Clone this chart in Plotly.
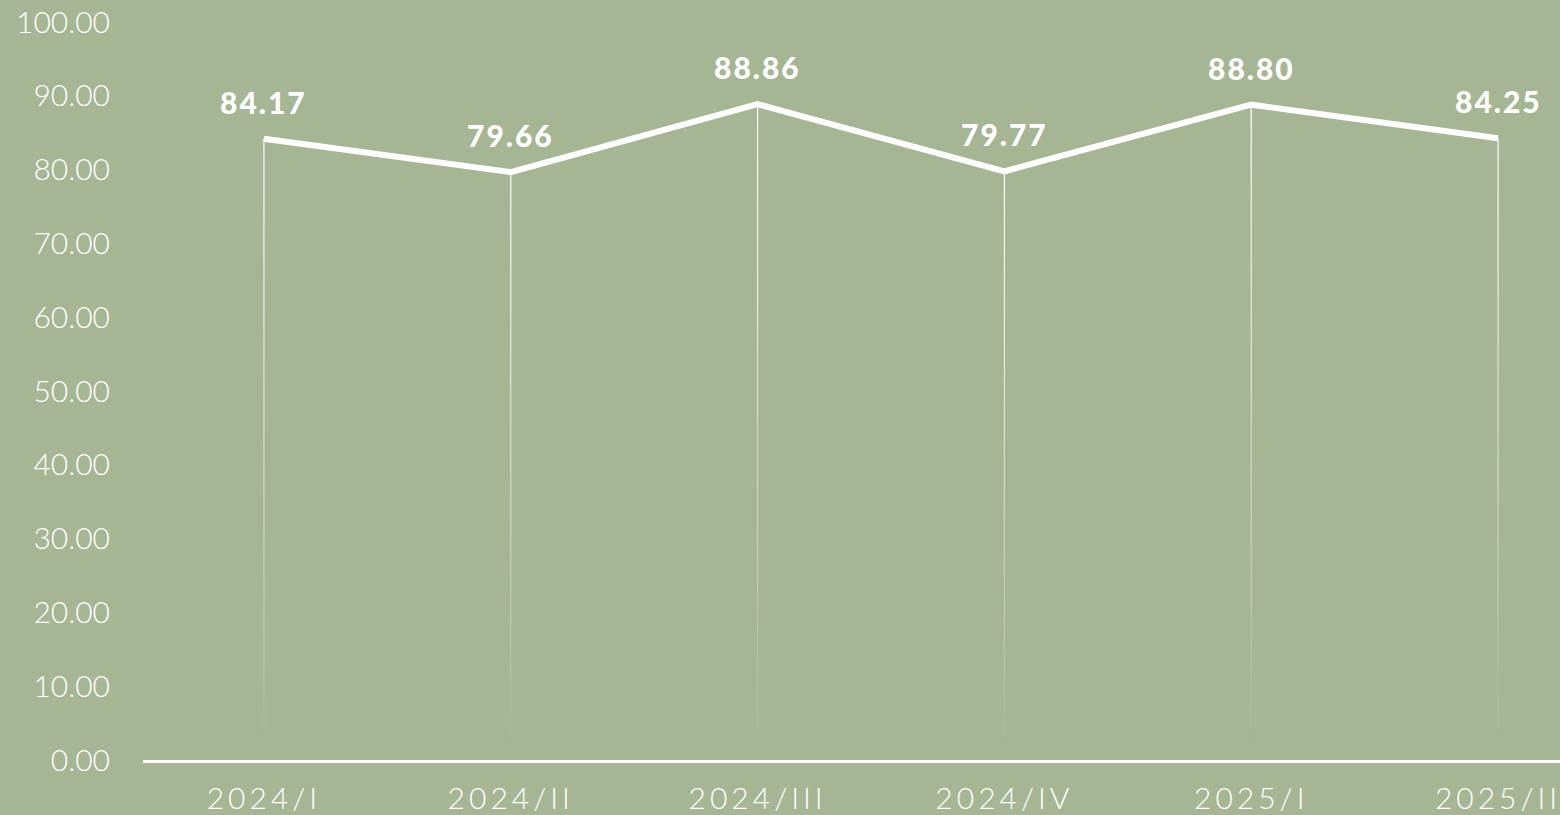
import plotly.graph_objects as go

categories = ["2024/I", "2024/II", "2024/III", "2024/IV", "2025/I", "2025/II"]
values = [84.17, 79.66, 88.86, 79.77, 88.80, 84.25]
y_ticks = [0, 10, 20, 30, 40, 50, 60, 70, 80, 90, 100]

BG = "#A6B593"
FONT = "Lato"
W, H = 1560, 815
ML, MR, MT, MB = 143, 0, 22, 55
XR = [-0.49, 5.251]
px_per_unit = (W - ML - MR) / (XR[1] - XR[0])
half_w = 0.6 / px_per_unit

xs = list(range(len(categories)))

fig = go.Figure()

# fading drop lines
for x, v in zip(xs, values):
    fig.add_trace(go.Scatter(
        x=[x - half_w, x + half_w, x + half_w, x - half_w, x - half_w],
        y=[0, 0, v, v, 0],
        mode="lines", line=dict(width=0), fill="toself",
        fillgradient=dict(type="vertical", start=0, stop=v,
                          colorscale=[[0, "rgba(255,255,255,0.0)"],
                                      [0.35, "rgba(255,255,255,0.4)"],
                                      [1, "rgba(255,255,255,1)"]]),
        hoverinfo="skip", showlegend=False))

fig.add_trace(go.Scatter(
    x=xs, y=values, mode="lines",
    line=dict(color="white", width=6),
    cliponaxis=False, showlegend=False))

for x, v in zip(xs, values):
    fig.add_annotation(x=x, y=v, text=f"{v:.2f}", showarrow=False,
                       yanchor="middle", yshift=37,
                       font=dict(family=FONT, size=30, color="white", weight=900))

fig.update_layout(
    width=W, height=H,
    margin=dict(l=ML, r=MR, t=MT, b=MB, pad=0, autoexpand=False),
    paper_bgcolor=BG, plot_bgcolor=BG,
    font=dict(family=FONT, color="white", size=30),
    showlegend=False,
)
fig.update_xaxes(
    range=XR, tickmode="array", tickvals=xs, ticktext=categories,
    showgrid=False, zeroline=False, showline=True, linecolor="white",
    linewidth=3, ticks="", ticklabelstandoff=10, automargin=False,
    tickfont=dict(family=FONT, size=30, color="white", weight=300),
)
fig.update_yaxes(
    range=[0, 100], tickmode="array", tickvals=y_ticks,
    ticktext=[f"{t:.2f}" for t in y_ticks],
    showgrid=False, zeroline=False, showline=False, ticks="",
    ticklabelstandoff=32, automargin=False,
    tickfont=dict(family=FONT, size=30, color="white", weight=300),
)

post = """
document.body.style.margin='0';document.body.style.overflow='hidden';
var gd=document.getElementById('{plot_id}');
function sp(){
 gd.querySelectorAll('.xtick text').forEach(function(e){e.setAttribute('letter-spacing','4px');});
 gd.querySelectorAll('.annotation-text').forEach(function(e){e.setAttribute('letter-spacing','2px');});
}
sp(); gd.on('plotly_afterplot', sp);
"""
fig.write_html("out.html", post_script=post, config={"displayModeBar": False})
